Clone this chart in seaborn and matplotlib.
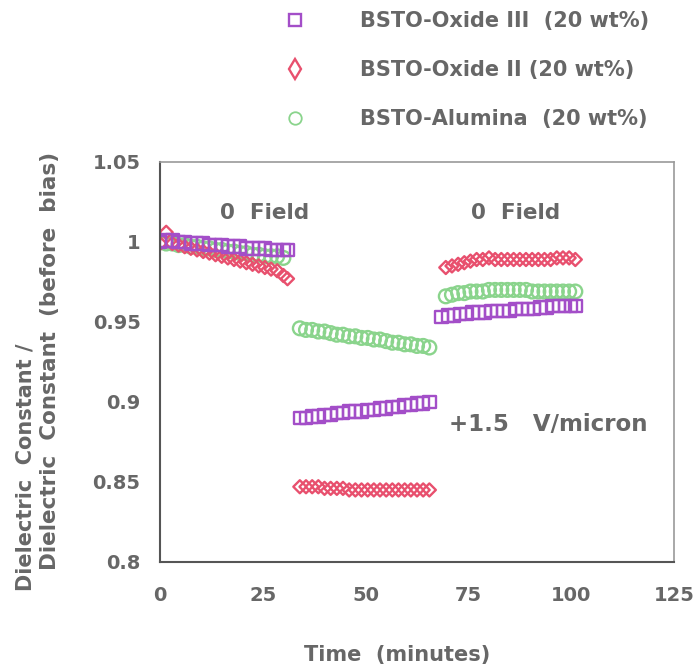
import matplotlib
matplotlib.use("Agg")
import matplotlib.pyplot as plt
from matplotlib.lines import Line2D
import seaborn as sns
import pandas as pd

# Normalised dielectric constant versus time, three bias phases
# (0 field, +1.5 V/micron, 0 field)

# BSTO-Oxide III (20 wt%)
oxide3_time = [0, 1.5, 3, 4.5, 6, 7.5, 9, 10.5, 12, 13.5, 15, 16.5, 18, 19.5, 21, 22.5,
               24, 25.5, 27, 28.5, 30, 31,
               34, 35.5, 37, 38.5, 40, 41.5, 43, 44.5, 46, 47.5, 49, 50.5, 52, 53.5, 55,
               56.5, 58, 59.5, 61, 62.5, 64, 65.5,
               68.5, 70, 71.5, 73, 74.5, 76, 77.5, 79, 80.5, 82, 83.5, 85, 86.5, 88, 89.5,
               91, 92.5, 94, 95.5, 97, 98.5, 100, 101]
oxide3_ratio = [1.000, 1.001, 1.001, 1.000, 1.000, 0.999, 0.999, 0.999, 0.998, 0.998, 0.998,
                0.997, 0.997, 0.997, 0.996, 0.996, 0.996, 0.996, 0.995, 0.995, 0.995, 0.995,
                0.890, 0.890, 0.891, 0.891, 0.892, 0.892, 0.893, 0.893, 0.894, 0.894, 0.894,
                0.895, 0.895, 0.896, 0.896, 0.897, 0.897, 0.898, 0.898, 0.899, 0.899, 0.900,
                0.953, 0.954, 0.954, 0.955, 0.955, 0.956, 0.956, 0.956, 0.957, 0.957, 0.957,
                0.957, 0.958, 0.958, 0.958, 0.958, 0.959, 0.959, 0.960, 0.960, 0.960, 0.960,
                0.960]

# BSTO-Oxide II (20 wt%)
oxide2_time = [0, 1.5, 3, 4.5, 6, 7.5, 9, 10.5, 12, 13.5, 15, 16.5, 18, 19.5, 21, 22.5,
               24, 25.5, 27, 28.5, 30, 31,
               34, 35.5, 37, 38.5, 40, 41.5, 43, 44.5, 46, 47.5, 49, 50.5, 52, 53.5, 55,
               56.5, 58, 59.5, 61, 62.5, 64, 65.5,
               69.5, 71, 72.5, 74, 75.5, 77, 78.5, 80, 81.5, 83, 84.5, 86, 87.5, 89, 90.5,
               92, 93.5, 95, 96.5, 98, 99.5, 101]
oxide2_ratio = [0.999, 1.006, 0.999, 0.998, 0.997, 0.996, 0.995, 0.994, 0.993, 0.992, 0.991,
                0.990, 0.989, 0.988, 0.987, 0.986, 0.985, 0.984, 0.983, 0.982, 0.979, 0.977,
                0.847, 0.847, 0.847, 0.847, 0.846, 0.846, 0.846, 0.846, 0.845, 0.845, 0.845,
                0.845, 0.845, 0.845, 0.845, 0.845, 0.845, 0.845, 0.845, 0.845, 0.845, 0.845,
                0.984, 0.985, 0.986, 0.987, 0.988, 0.989, 0.989, 0.990, 0.989, 0.989, 0.989,
                0.989, 0.989, 0.989, 0.989, 0.989, 0.989, 0.989, 0.990, 0.990, 0.990, 0.989]

# BSTO-Alumina (20 wt%)
alumina_time = [0, 1.5, 3, 4.5, 6, 7.5, 9, 10.5, 12, 13.5, 15, 16.5, 18, 19.5, 21, 22.5,
                24, 25.5, 27, 28.5, 30,
                34, 35.5, 37, 38.5, 40, 41.5, 43, 44.5, 46, 47.5, 49, 50.5, 52, 53.5, 55,
                56.5, 58, 59.5, 61, 62.5, 64, 65.5,
                69.5, 71, 72.5, 74, 75.5, 77, 78.5, 80, 81.5, 83, 84.5, 86, 87.5, 89, 90.5,
                92, 93.5, 95, 96.5, 98, 99.5, 101]
alumina_ratio = [1.000, 0.999, 0.999, 0.998, 0.998, 0.997, 0.997, 0.996, 0.996, 0.995, 0.995,
                 0.994, 0.994, 0.993, 0.993, 0.992, 0.992, 0.991, 0.991, 0.991, 0.990,
                 0.946, 0.945, 0.945, 0.944, 0.944, 0.943, 0.942, 0.942, 0.941, 0.941, 0.940,
                 0.940, 0.939, 0.939, 0.938, 0.937, 0.937, 0.936, 0.936, 0.935, 0.935, 0.934,
                 0.966, 0.967, 0.968, 0.968, 0.969, 0.969, 0.969, 0.970, 0.970, 0.970, 0.970,
                 0.970, 0.970, 0.970, 0.969, 0.969, 0.969, 0.969, 0.969, 0.969, 0.969, 0.969]

series_names = ["BSTO-Oxide III  (20 wt%)", "BSTO-Oxide II (20 wt%)", "BSTO-Alumina  (20 wt%)"]
x_ticks = [0, 25, 50, 75, 100, 125]
y_ticks = [0.8, 0.85, 0.9, 0.95, 1.0, 1.05]
y_tick_labels = ["0.8", "0.85", "0.9", "0.95", "1", "1.05"]

frames = [
    pd.DataFrame({"Time": oxide3_time, "Ratio": oxide3_ratio, "Material": series_names[0]}),
    pd.DataFrame({"Time": oxide2_time, "Ratio": oxide2_ratio, "Material": series_names[1]}),
    pd.DataFrame({"Time": alumina_time, "Ratio": alumina_ratio, "Material": series_names[2]}),
]

colors = {series_names[0]: "#a34ec8", series_names[1]: "#e8506e", series_names[2]: "#8ad48c"}
markers = {series_names[0]: "s", series_names[1]: "D", series_names[2]: "o"}
sizes = {series_names[0]: 80, series_names[1]: 44, series_names[2]: 98}

sns.set_style("white")
plt.rcParams["font.family"] = ["DejaVu Sans"]
text_color = "#676767"

fig = plt.figure(figsize=(6.97, 6.69), dpi=100)
ax = fig.add_axes([0.2296, 0.160, 0.7374, 0.598])

# alumina underneath, oxide III on top
for df in [frames[2], frames[1], frames[0]]:
    name = df["Material"].iloc[0]
    sns.scatterplot(data=df, x="Time", y="Ratio", ax=ax, marker=markers[name],
                    s=sizes[name], color=colors[name], legend=False)
    coll = ax.collections[-1]
    coll.set_facecolor("none")
    coll.set_edgecolor(colors[name])
    coll.set_linewidth(1.7)

ax.set_xlim(0, 125)
ax.set_ylim(0.8, 1.05)
ax.set_xticks(x_ticks)
ax.set_xticklabels([str(t) for t in x_ticks])
ax.set_yticks(y_ticks)
ax.set_yticklabels(y_tick_labels)
ax.tick_params(axis="both", direction="out", length=8, width=1.3, colors="#555555",
               labelsize=14, labelcolor=text_color)
ax.tick_params(axis="x", pad=9)
ax.tick_params(axis="y", pad=6)
for lab in ax.get_xticklabels() + ax.get_yticklabels():
    lab.set_fontweight("bold")

for side in ["left", "bottom"]:
    ax.spines[side].set_color("#555555")
    ax.spines[side].set_linewidth(1.5)
for side in ["top", "right"]:
    ax.spines[side].set_color("#9a9a9a")
    ax.spines[side].set_linewidth(1.2)

ax.set_xlabel("")
ax.set_ylabel("")
fig.text(0.570, 0.021, "Time  (minutes)", fontsize=15, fontweight="bold",
         color=text_color, ha="center", va="center")
fig.text(0.036, 0.117, "Dielectric  Constant /", rotation=90, fontsize=15,
         fontweight="bold", color=text_color, ha="center", va="bottom")
fig.text(0.072, 0.148, "Dielectric  Constant  (before  bias)", rotation=90, fontsize=15.5,
         fontweight="bold", color=text_color, ha="center", va="bottom")

ax.text(25.5, 1.018, "0  Field", fontsize=15.5, fontweight="bold", color=text_color,
        ha="center", va="center")
ax.text(86.5, 1.018, "0  Field", fontsize=15.5, fontweight="bold", color=text_color,
        ha="center", va="center")
ax.text(94.5, 0.886, "+1.5   V/micron", fontsize=16.5, fontweight="bold", color=text_color,
        ha="center", va="center")

handles = [
    Line2D([], [], linestyle="", marker="s", markersize=9, markerfacecolor="none",
           markeredgecolor=colors[series_names[0]], markeredgewidth=1.7),
    Line2D([], [], linestyle="", marker="d", markersize=10, markerfacecolor="none",
           markeredgecolor=colors[series_names[1]], markeredgewidth=1.7),
    Line2D([], [], linestyle="", marker="o", markersize=9, markerfacecolor="none",
           markeredgecolor=colors[series_names[2]], markeredgewidth=1.3),
]
leg = fig.legend(handles, series_names, loc="upper left", bbox_to_anchor=(0.413, 0.983),
                 frameon=False, handlelength=0.7, handletextpad=2.75, labelspacing=1.38,
                 borderpad=0, borderaxespad=0, prop={"weight": "bold", "size": 15})
for t in leg.get_texts():
    t.set_color(text_color)

fig.savefig("out.png", dpi=100)
